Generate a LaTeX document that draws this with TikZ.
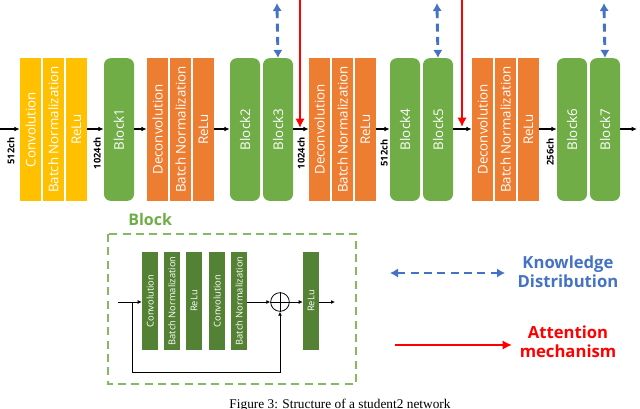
\documentclass[tikz,border=0pt]{standalone}
\usepackage{fontspec}
\usepackage{graphicx}
\setmainfont{Liberation Serif}
\newfontfamily\sfo{Open Sans}
\usetikzlibrary{arrows.meta}
\definecolor{yel}{HTML}{FFC000}
\definecolor{ora}{HTML}{ED7D31}
\definecolor{grn}{HTML}{70AD47}
\definecolor{dgrn}{HTML}{548235}
\definecolor{blu}{HTML}{4472C4}
\newcommand{\rt}[1]{\rotatebox{90}{#1}}
\begin{document}
\begin{tikzpicture}[x=0.75pt,y=-0.75pt,
  lay/.style={minimum height=107pt,minimum width=15.75pt,inner sep=0pt,text=white,font=\sfo\fontsize{10}{10}\selectfont},
  yl/.style={lay,fill=yel},
  ol/.style={lay,fill=ora},
  gb/.style={lay,fill=grn,rounded corners=5pt,minimum width=22.5pt},
  ib/.style={minimum height=73.5pt,minimum width=12pt,inner sep=0pt,fill=dgrn,text=white,font=\sfo\fontsize{7}{7}\selectfont},
  ar/.style={-{Latex[length=4pt,width=3.5pt]},line width=1pt},
  sar/.style={-{Latex[length=3pt,width=3pt]},line width=0.6pt},
  kd/.style={{Latex[length=6pt,width=7pt]}-{Latex[length=6pt,width=7pt]},blu,line width=2.2pt,dash pattern=on 6pt off 4pt},
  am/.style={-{Latex[length=7pt,width=7pt]},red,line width=2.2pt},
  lg/.style={font=\sfo\bfseries\fontsize{12.5}{14}\selectfont,align=center},
  ch/.style={font=\sfo\bfseries\fontsize{7}{7}\selectfont,inner sep=0pt}]
\useasboundingbox (0,0) rectangle (640,408);
% top row
\node[yl] (c1) at (30.5,129.5) {\rt{Convolution}};
\node[yl] (b1) at (53.5,129.5) {\rt{Batch Normalization}};
\node[yl] (r1) at (76.5,129.5) {\rt{ReLu}};
\node[gb] (k1) at (119,129.5) {\rt{Block1}};
\node[ol] (d2) at (157.5,129.5) {\rt{Deconvolution}};
\node[ol] (b2) at (180.5,129.5) {\rt{Batch Normalization}};
\node[ol] (r2) at (203.5,129.5) {\rt{ReLu}};
\node[gb] (k2) at (245,129.5) {\rt{Block2}};
\node[gb] (k3) at (278,129.5) {\rt{Block3}};
\node[ol] (d3) at (319.5,129.5) {\rt{Deconvolution}};
\node[ol] (b3) at (342.5,129.5) {\rt{Batch Normalization}};
\node[ol] (r3) at (365.5,129.5) {\rt{ReLu}};
\node[gb] (k4) at (405,129.5) {\rt{Block4}};
\node[gb] (k5) at (438,129.5) {\rt{Block5}};
\node[ol] (d4) at (482.5,129.5) {\rt{Deconvolution}};
\node[ol] (b4) at (505.5,129.5) {\rt{Batch Normalization}};
\node[ol] (r4) at (528.5,129.5) {\rt{ReLu}};
\node[gb] (k6) at (572,129.5) {\rt{Block6}};
\node[gb] (k7) at (605,129.5) {\rt{Block7}};
\coordinate (s0) at (0,129);
\coordinate (e0) at (637,129);
\draw[ar] (s0) -- (c1.west|-s0);
\draw[ar] (r1.east|-s0) -- (k1.west|-s0);
\draw[ar] (k1.east|-s0) -- (d2.west|-s0);
\draw[ar] (r2.east|-s0) -- (k2.west|-s0);
\draw[ar] (k3.east|-s0) -- (d3.west|-s0);
\draw[ar] (r3.east|-s0) -- (k4.west|-s0);
\draw[ar] (k5.east|-s0) -- (d4.west|-s0);
\draw[ar] (r4.east|-s0) -- (k6.west|-s0);
\draw[ar] (k7.east|-s0) -- (e0);
\node[ch] (l1) at (11,151) {\rt{512ch}};
\node[ch] (l2) at (97,153) {\rt{1024ch}};
\node[ch] (l3) at (301,153) {\rt{1024ch}};
\node[ch] (l4) at (384,153) {\rt{512ch}};
\node[ch] (l5) at (550,152) {\rt{256ch}};
\coordinate (t3) at (277,3); \coordinate (t5) at (437,3); \coordinate (t7) at (604,3);
\draw[kd] (t3) -- (k3.north);
\draw[kd] (t5) -- (k5.north);
\draw[kd] (t7) -- (k7.north);
\coordinate (ra) at (300,0); \coordinate (rb) at (462,0);
\draw[am] (ra) -- (300,128);
\draw[am] (rb) -- (462,127);
% block detail
\node[font=\sfo\bfseries\fontsize{12}{12}\selectfont,text=grn,anchor=west,inner sep=0pt] (bt) at (128,219) {Block};
\draw[grn!85,line width=2.2pt,dash pattern=on 6pt off 4pt] (108,234) rectangle (356,384);
\node[ib] (i1) at (150,301) {\rt{Convolution}};
\node[ib] (i2) at (172,301) {\rt{Batch Normalization}};
\node[ib] (i3) at (194,301) {\rt{ReLu}};
\node[ib] (i4) at (217,301) {\rt{Convolution}};
\node[ib] (i5) at (239,301) {\rt{Batch Normalization}};
\node[ib] (i6) at (311,301) {\rt{ReLu}};
\node[circle,draw,line width=0.6pt,minimum size=14pt,inner sep=0pt] (pl) at (280,302) {};
\draw[line width=0.6pt] (pl.north) -- (pl.south) (pl.west) -- (pl.east);
\coordinate (in) at (118,302); \coordinate (out) at (335,302);
\draw[sar] (in) -- (i1.west|-in);
\draw[sar] (i5.east|-in) -- (pl.west);
\draw[sar] (pl.east) -- (i6.west|-in);
\draw[sar] (i6.east|-in) -- (out);
\draw[sar] (132,302) -- (132,372) -- (280,372) -- (pl.south);
% legend
\coordinate (k1a) at (390,273); \coordinate (k1b) at (505,273);
\draw[kd] (k1a) -- (k1b);
\node[lg,text=blu] (kt) at (568,272) {Knowledge\\Distribution};
\coordinate (a1a) at (395,345); \coordinate (a1b) at (512,345);
\draw[am] (a1a) -- (a1b);
\node[lg,text=red] (at) at (568,342) {Attention\\mechanism};
\node[font=\fontsize{10}{10}\selectfont,anchor=north,inner sep=0pt] (cap) at (340,399) {Figure 3: Structure of a student2 network};
\end{tikzpicture}
\end{document}
